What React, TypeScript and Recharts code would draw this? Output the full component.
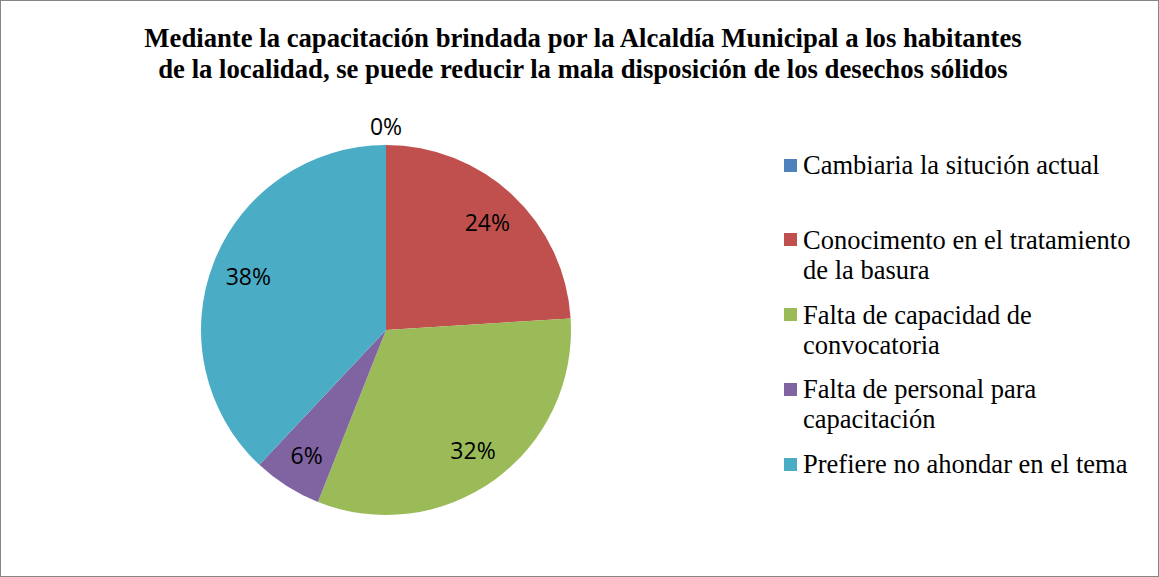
import { Cell, Pie, PieChart } from "recharts";

const categories = [
  "Cambiaria la situción actual",
  "Conocimento en el tratamiento de la basura",
  "Falta de capacidad de convocatoria",
  "Falta de personal para capacitación",
  "Prefiere no ahondar en el tema",
];
const values = [0, 24, 32, 6, 38];
const colors = ["#4F81BD", "#C0504D", "#9BBB59", "#8064A2", "#4BACC6"];

const titleLines = [
  "Mediante la capacitación brindada por la Alcaldía Municipal a los habitantes",
  "de la localidad, se puede reducir la mala disposición de los desechos sólidos",
];

const data = categories.map((name, i) => ({ name, value: values[i] }));

const RAD = Math.PI / 180;
const serif = '"Times New Roman", "Liberation Serif", "DejaVu Serif", serif';

const renderLabel = (props: any) => {
  const { cx, cy, midAngle, outerRadius, value, percent } = props;
  // los 0% van por fuera, el resto dentro de la porción
  const r = value === 0 ? outerRadius + 19 : outerRadius * 0.8;
  const x = cx + r * Math.cos(-midAngle * RAD);
  const y = cy + r * Math.sin(-midAngle * RAD);
  return (
    <text
      x={x}
      y={y}
      textAnchor="middle"
      dominantBaseline="central"
      fill="#000"
      style={{ fontFamily: '"Open Sans", sans-serif', fontSize: 23 }}
    >
      {`${Math.round(percent * 100)}%`}
    </text>
  );
};

export default function App() {
  return (
    <div
      style={{
        position: "absolute",
        left: 0,
        top: 0,
        width: 1159,
        height: 577,
        background: "#fff",
      }}
    >
      {/* borde del gráfico */}
      <div
        style={{
          position: "absolute",
          left: 0,
          top: 0,
          width: 1159,
          height: 577,
          boxSizing: "border-box",
          border: "1px solid #868686",
        }}
      />

      {/* Title */}
      <div
        style={{
          position: "absolute",
          left: 0,
          top: 23,
          width: 1166,
          textAlign: "center",
          fontFamily: serif,
          fontWeight: "bold",
          fontSize: 26.7,
          lineHeight: "31px",
          color: "#000",
        }}
      >
        {titleLines.map((t) => (
          <div key={t}>{t}</div>
        ))}
      </div>

      {/* Chart */}
      <div style={{ position: "absolute", left: 0, top: 0 }}>
        <PieChart width={1159} height={577} margin={{ top: 0, right: 0, bottom: 0, left: 0 }}>
          <Pie
            data={data}
            dataKey="value"
            nameKey="name"
            cx={386}
            cy={330}
            outerRadius={185}
            startAngle={90}
            endAngle={-270}
            stroke="none"
            label={renderLabel}
            labelLine={false}
            isAnimationActive={false}
          >
            {data.map((d, i) => (
              <Cell key={d.name} fill={colors[i]} />
            ))}
          </Pie>
        </PieChart>
      </div>

      {/* Legend */}
      <div
        style={{
          position: "absolute",
          left: 784,
          top: 150,
          width: 370,
          fontFamily: serif,
          fontSize: 26.5,
          lineHeight: "30px",
          color: "#000",
        }}
      >
        {categories.map((name, i) => (
          <div key={name} style={{ display: "flex", alignItems: "flex-start", height: 74.8 }}>
            <span
              style={{
                width: 13,
                height: 13,
                marginTop: 8.5,
                marginRight: 6,
                background: colors[i],
                flexShrink: 0,
              }}
            />
            <span style={{ width: 345 }}>{name}</span>
          </div>
        ))}
      </div>
    </div>
  );
}
